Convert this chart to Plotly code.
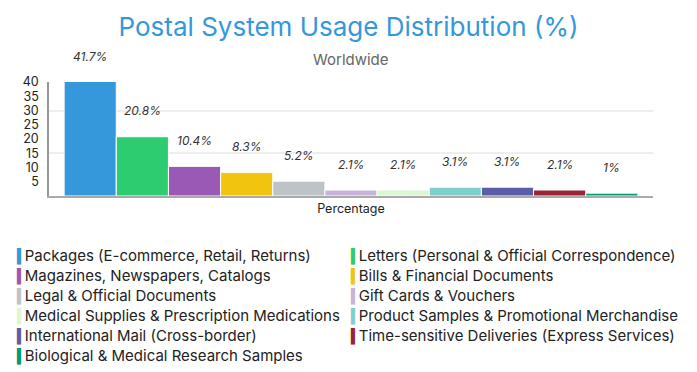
import plotly.graph_objects as go

categories = [
    "Packages (E-commerce, Retail, Returns)",
    "Letters (Personal & Official Correspondence)",
    "Magazines, Newspapers, Catalogs",
    "Bills & Financial Documents",
    "Legal & Official Documents",
    "Gift Cards & Vouchers",
    "Medical Supplies & Prescription Medications",
    "Product Samples & Promotional Merchandise",
    "International Mail (Cross-border)",
    "Time-sensitive Deliveries (Express Services)",
    "Biological & Medical Research Samples",
]
values = [41.7, 20.8, 10.4, 8.3, 5.2, 2.1, 2.1, 3.1, 3.1, 2.1, 1]
value_labels = ["41.7%", "20.8%", "10.4%", "8.3%", "5.2%", "2.1%", "2.1%", "3.1%", "3.1%", "2.1%", "1%"]
colors = ["#3498db", "#2ecc71", "#9b59b6", "#f1c40f", "#bdc3c7", "#c9b3d9",
          "#daf7cf", "#7fcfcd", "#5b5ea6", "#9b2335", "#009b77"]
x_tick_label = "Percentage"
y_ticks = [5, 10, 15, 20, 25, 30, 35, 40]
y_max = 40

FONT = "Inter, Roboto, sans-serif"
ML, MR, MT, MB = 49, 44, 82, 176
W, H = 697, 372
PW = W - ML - MR

fig = go.Figure()
positions = list(range(len(categories)))
for i, (c, v, col) in enumerate(zip(categories, values, colors)):
    fig.add_trace(go.Bar(
        x=[positions[i]], y=[v], width=1, name=c, legendgroup=c, showlegend=False,
        marker=dict(color=col, line=dict(color="white", width=1)),
    ))
    legend_name = (f'<span style="color:{col};font-family:DejaVu Sans;font-size:14px;'
                   f'letter-spacing:-3px">\u258D</span>'
                   f'<span style="font-size:15px">{c}</span>')
    fig.add_trace(go.Scatter(
        x=[None], y=[None], mode="markers", name=legend_name, legendgroup=c, showlegend=True,
        legend="legend" if i % 2 == 0 else "legend2",
        marker=dict(size=1, color="rgba(0,0,0,0)"),
    ))
    fig.add_annotation(
        x=positions[i], y=min(v, y_max), text=value_labels[i], showarrow=False,
        yshift=26, yanchor="middle",
        font=dict(family=FONT, size=12, color="#333", style="italic"),
    )

mid = (positions[0] + positions[-1]) / 2
legend_common = dict(orientation="v", xref="paper", yref="container", xanchor="left",
                     y=1 - 241 / H, yanchor="top",
                     font=dict(family=FONT, size=13.1, color="#222"),
                     tracegroupgap=0, itemwidth=30, bgcolor="rgba(0,0,0,0)")
fig.update_layout(
    width=W, height=H,
    margin=dict(l=ML, r=MR, t=MT, b=MB, autoexpand=False),
    paper_bgcolor="white", plot_bgcolor="white",
    font=dict(family=FONT, color="#333"),
    barmode="overlay",
    title=dict(text="Postal System Usage Distribution (%)", x=0.5, xanchor="center",
               y=1 - 27 / H, yanchor="middle", yref="container",
               font=dict(family=FONT, size=26, color="#3498db")),
    xaxis=dict(range=[-0.79, 10.79], tickvals=[mid], ticktext=[x_tick_label],
               showline=True, linecolor="#aaa", linewidth=2, showgrid=False, zeroline=False,
               ticks="", tickfont=dict(size=12.5, color="#222")),
    yaxis=dict(range=[0, y_max], tickvals=y_ticks, showgrid=False, zeroline=False,
               showline=True, linecolor="#999", linewidth=1.5, ticks="",
               ticklabelstandoff=6,
               tickfont=dict(size=12.5, color="#222"),
               minor=dict(tickmode="array", tickvals=[15, 30], showgrid=True,
                          gridcolor="#eeeeee", gridwidth=2, ticks="")),
    legend=dict(x=(-23 - ML) / PW, **legend_common),
    legend2=dict(x=(311 - ML) / PW, **legend_common),
    showlegend=True,
)
fig.add_annotation(text="Worldwide", x=0.5, xref="paper", y=(196 - 59) / 114, yref="paper",
                   showarrow=False, yanchor="middle",
                   font=dict(family=FONT, size=15, color="#666"))
fig.write_html("out.html")
